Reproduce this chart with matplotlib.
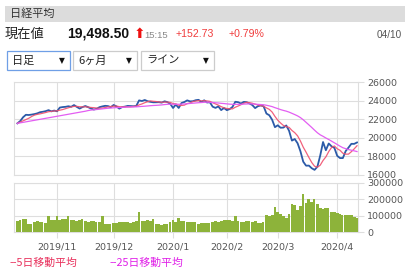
import numpy as np
import pandas as pd
import matplotlib.pyplot as plt
from matplotlib.patches import Rectangle

W, H = 420, 270
JP = ['Noto Sans CJK JP', 'DejaVu Sans']
NUM = ['Liberation Sans', 'DejaVu Sans']

# --- trading days (Tokyo) and daily data ---
HOLIDAYS = ["2019-10-14", "2019-10-22", "2019-11-04", "2019-12-31", "2020-01-01",
            "2020-01-02", "2020-01-03", "2020-01-13", "2020-02-11", "2020-02-24",
            "2020-03-20"]

CLOSE = [
    # Oct
    21551.98, 21798.87, 22207.21, 22472.92, 22451.86, 22492.68, 22548.90, 22625.38,
    22750.60, 22799.81, 22867.27, 22974.13, 22843.12, 22927.04,
    # Nov
    22850.77, 23251.99, 23303.82, 23330.32, 23391.87, 23331.84, 23520.01, 23319.87,
    23141.55, 23303.32, 23416.76, 23292.65, 23148.57, 23038.58, 23112.88, 23292.81,
    23373.32, 23437.77, 23409.14, 23293.91,
    # Dec
    23529.50, 23379.81, 23135.23, 23300.09, 23354.40, 23430.70, 23410.19, 23391.86,
    23424.81, 24023.10, 23952.35, 24066.12, 23934.43, 23864.85, 23816.63, 23821.11,
    23830.58, 23782.87, 23924.92, 23837.72, 23656.62,
    # Jan
    23204.86, 23575.72, 23204.76, 23739.87, 23850.57, 24025.17, 23916.58, 23933.13,
    24041.26, 24083.51, 23864.56, 24031.35, 23795.44, 23827.18, 23343.51, 23215.71,
    23379.40, 22977.75, 23205.18,
    # Feb
    22971.94, 23084.59, 23319.56, 23873.59, 23827.98, 23685.98, 23861.21, 23827.73,
    23687.59, 23523.24, 23193.80, 23400.70, 23479.15, 23386.74, 22605.41, 22426.19,
    21948.23, 21142.96,
    # Mar
    21344.08, 21082.73, 21100.06, 21329.12, 20749.75, 19698.76, 19867.12, 19416.06,
    18559.63, 17431.05, 17002.04, 17011.53, 16726.55, 16552.83, 16887.78, 18092.35,
    19546.63, 18664.60, 19389.43, 19084.97, 18917.01,
    # Apr
    18065.41, 17818.72, 17820.19, 18576.30, 18950.18, 19353.24, 19345.77, 19498.50,
]

VOLUME = [
    65000, 76000, 80000, 78000, 52000, 50000, 64000, 66000, 63000, 60000, 58000, 96000,
    72000, 74000,
    98000, 76000, 80000, 78000, 96000, 72000, 74000, 70000, 72000, 78000, 66000, 64000,
    68000, 66000, 64000, 60000, 98000, 52000, 50000, 52000,
    54000, 58000, 60000, 62000, 60000, 62000, 58000, 62000, 66000, 120000, 70000, 68000,
    74000, 66000, 80000, 50000, 46000, 44000, 48000, 52000, 60000,
    74000, 62000, 84000, 70000, 66000, 64000, 62000, 60000, 62000, 50000, 54000, 56000,
    58000, 56000, 62000, 66000, 64000, 70000, 76000,
    74000, 72000, 70000, 98000, 70000, 60000, 62000, 68000, 66000, 64000, 70000, 58000,
    56000, 60000, 104000, 100000, 106000, 152000,
    120000, 110000, 100000, 88000, 112000, 170000, 165000, 132000, 160000, 235000,
    180000, 200000, 185000, 200000, 170000, 150000, 140000, 148000, 150000, 125000,
    122000,
    118000, 108000, 104000, 106000, 106000, 106000, 90000, 88000,
]

PRICE_TICKS = [16000, 18000, 20000, 22000, 24000, 26000]
VOLUME_TICKS = [0, 100000, 200000, 300000]

dates = pd.bdate_range("2019-10-10", "2020-04-10").drop(pd.to_datetime(HOLIDAYS))
n = len(dates)
x = np.arange(n)
close = pd.Series(CLOSE)


def moving_avg(s, win):
    m = s.rolling(win).mean()
    m.iloc[0] = s.iloc[0]          # line starts from the first close
    return m.dropna()


ma5 = moving_avg(close, 5)
ma25 = moving_avg(close, 25)

# first trading day of each month -> gridlines / labels
months = pd.Series(dates.to_period("M"))
month_idx = [i for i in range(1, n) if months[i] != months[i - 1]]
month_lbl = [f"{dates[i].year}/{dates[i].month}" for i in month_idx]

# last day of each week gets a slimmer bar (white gap between weeks)
week = pd.Series(dates.isocalendar().week.values)
week_end = np.array([i == n - 1 or week[i] != week[i + 1] for i in range(n)])
bar_w = np.where(week_end, 0.7, 1.0)


def fx(px):
    return px / W


def fy(py):
    return 1 - py / H


fig = plt.figure(figsize=(4.2, 2.7), dpi=100)
fig.patch.set_facecolor("white")

# --- header ---
fig.patches.append(Rectangle((fx(5), fy(22)), fx(400), 16 / H, transform=fig.transFigure,
                             facecolor="#dcdcdc", edgecolor="none"))
fig.text(fx(10), fy(14), "日経平均", family=JP, fontsize=8, color="#333333", va="center")
fig.text(fx(5), fy(34), "現在値", family=JP, fontsize=9.5, color="#222222", va="center")
fig.text(fx(67), fy(34), "19,498.50", family=NUM, fontsize=10, fontweight="bold",
         color="#111111", va="center")
fig.text(fx(133.5), fy(34), "⬆", family=['DejaVu Sans'], fontsize=10, color="#ee1111",
         va="center")
fig.text(fx(144), fy(35), "15:15", family=NUM, fontsize=6.8, color="#888888", va="center")
fig.text(fx(176), fy(34), "+152.73", family=NUM, fontsize=7.6, color="#f03c3c", va="center")
fig.text(fx(229), fy(34), "+0.79%", family=NUM, fontsize=7.6, color="#f03c3c", va="center")
fig.text(fx(402), fy(34.5), "04/10", family=NUM, fontsize=7.2, color="#555555",
         va="center", ha="right")

# --- dropdowns ---
for (x0, x1, label, edge) in [(7, 70, "日足", "#6f9fe6"), (73, 137, "6ヶ月", "#cccccc"),
                              (141, 214, "ライン", "#cccccc")]:
    fig.patches.append(Rectangle((fx(x0), fy(70)), (x1 - x0) / W, 19 / H,
                                 transform=fig.transFigure, facecolor="white",
                                 edgecolor=edge, linewidth=0.9))
    fig.text(fx(x0 + 5), fy(60.5), label, family=JP, fontsize=8, color="#222222",
             va="center")
    fig.text(fx(x1 - 8), fy(60.5), "▼", family=['DejaVu Sans'], fontsize=5.5,
             color="#111111", va="center", ha="center")

GRID = "#dedede"
XLIM = (-1.2, 120.35)

# --- price panel ---
ax = fig.add_axes([fx(14), fy(175), (358 - 14) / W, 93 / H])
ax.plot(x, close, color="#2c5aa8", lw=1.3, zorder=3)
ax.plot(ma5.index, ma5.values, color="#f0506e", lw=0.9, alpha=0.9, zorder=4)
ax.plot(ma25.index, ma25.values, color="#e35ef2", lw=0.9, zorder=5)
ax.set_xlim(*XLIM)
ax.set_ylim(PRICE_TICKS[0], PRICE_TICKS[-1])
ax.set_yticks(PRICE_TICKS)
ax.set_yticklabels([str(t) for t in PRICE_TICKS])
ax.set_xticks(month_idx)
ax.yaxis.tick_right()
ax.tick_params(axis="x", length=0, labelbottom=False)
ax.tick_params(axis="y", length=4.5, color=GRID, width=0.8, pad=2, labelsize=6.8,
               labelcolor="#555555")
ax.grid(True, color=GRID, lw=0.8)
for s in ax.spines.values():
    s.set_color(GRID)
    s.set_linewidth(0.8)

# --- volume panel ---
av = fig.add_axes([fx(14), fy(232), (358 - 14) / W, 49 / H])
av.bar(x - 0.5, VOLUME, width=bar_w, align="edge", color="#8db33a", linewidth=0, zorder=3)
av.set_xlim(*XLIM)
av.set_ylim(VOLUME_TICKS[0], VOLUME_TICKS[-1])
av.set_yticks(VOLUME_TICKS)
av.set_yticklabels([str(t) for t in VOLUME_TICKS])
av.set_xticks(month_idx)
av.set_xticklabels(month_lbl)
av.yaxis.tick_right()
av.tick_params(axis="x", length=4, color=GRID, width=0.8, pad=3.5, labelsize=6.8,
               labelcolor="#555555")
av.tick_params(axis="y", length=4.5, color=GRID, width=0.8, pad=2, labelsize=6.8,
               labelcolor="#555555")
av.grid(True, color=GRID, lw=0.8)
for s in av.spines.values():
    s.set_color(GRID)
    s.set_linewidth(0.8)

# --- legend text ---
fig.text(fx(9), fy(263), "--5日移動平均", family=JP, fontsize=7.8, color="#e8305c",
         va="center")
fig.text(fx(109), fy(263), "--25日移動平均", family=JP, fontsize=7.8, color="#e020e8",
         va="center")

fig.savefig("out.png", dpi=100)
